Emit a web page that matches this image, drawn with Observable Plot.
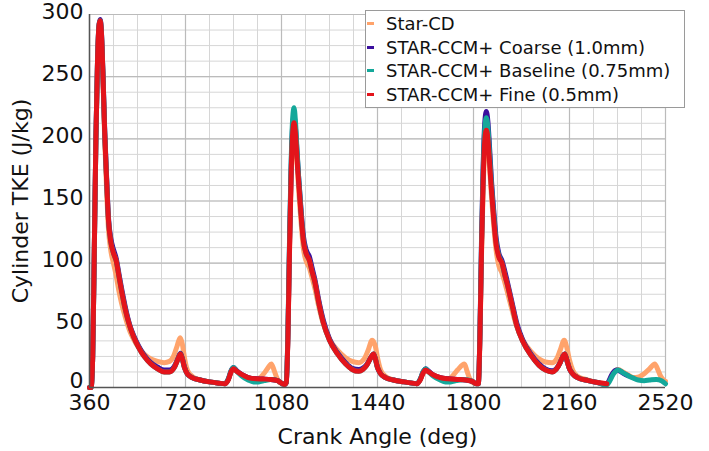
<!DOCTYPE html>
<html><head><meta charset="utf-8">
<script src="https://cdn.jsdelivr.net/npm/d3@7"></script>
<script src="https://cdn.jsdelivr.net/npm/@observablehq/plot@0.6"></script>
<style>
body{margin:0;background:#fff;}
#wrap{position:relative;width:709px;height:451px;font-family:"DejaVu Sans",sans-serif;}
#legend{position:absolute;left:365px;top:10px;width:320px;height:98px;border:1px solid #9a9a9a;background:#fff;box-sizing:border-box;font-size:18px;color:#111;}
.row{position:absolute;left:0;height:23px;display:flex;align-items:center;white-space:nowrap;}
.sw{width:7px;height:3px;margin-left:1px;margin-right:12px;}
</style></head>
<body><div id="wrap"><div id="legend"></div></div>
<script>
const seriesNames = ["Star-CD","STAR-CCM+ Coarse (1.0mm)","STAR-CCM+ Baseline (0.75mm)","STAR-CCM+ Fine (0.5mm)"];
const seriesColors = ["#ffa36b","#3b0f9e","#14a89a","#e3141b"];
const xTicks = [360,720,1080,1440,1800,2160,2520];
const yTicks = [0,50,100,150,200,250,300];
const xMinor = d3.range(360,2521,90);
const yMinor = d3.range(0,300.1,12.5);

const starCD = [[360,0],[366,0],[372,25],[378,110],[384,200],[390,262],[396,290],[400,293],[404,286],[410,252],[417,200],[424,160],[431,128],[440,110],[450,100],[460,90],[470,78],[480,68],[495,56],[510,46],[525,39],[545,32],[565,27],[590,23],[615,21],[640,20],[660,21],[675,25],[688,33],[700,40],[708,35],[716,24],[727,14],[745,9],[775,6],[810,4.5],[845,3.5],[868,3],[880,6],[892,13],[900,15],[912,13],[930,10.5],[955,8],[985,7],[1000,8],[1015,11.5],[1030,16],[1042,19],[1052,14],[1062,8],[1072,4],[1085,3],[1098,4],[1104,40],[1110,108],[1116,166],[1122,202],[1127,210],[1132,202],[1138,182],[1144,160],[1153,134],[1162,112],[1172,102],[1185,96],[1195,88],[1205,80],[1220,65],[1237,51],[1260,39],[1290,30],[1320,24],[1345,21],[1370,20],[1390,23],[1405,30],[1420,38],[1432,33],[1440,24],[1452,14],[1470,9],[1500,6],[1540,4.5],[1570,3.5],[1588,3],[1600,6],[1612,12],[1620,14],[1632,12.5],[1650,10],[1675,8],[1705,7],[1720,9],[1740,14],[1766,19],[1776,13],[1786,7],[1796,4],[1810,3],[1818,3],[1824,38],[1830,106],[1836,158],[1842,192],[1848,203],[1854,196],[1860,178],[1867,155],[1876,130],[1885,110],[1895,98],[1907,92],[1918,84],[1928,76],[1945,62],[1962,49],[1985,38],[2015,29],[2045,23],[2070,20.5],[2095,20],[2112,23],[2125,30],[2140,38],[2150,32],[2160,22],[2172,14],[2190,9],[2230,6],[2265,4],[2300,3],[2310,6],[2325,12],[2343,14.5],[2360,12.5],[2380,10],[2400,8],[2420,8.5],[2440,11],[2460,15],[2480,19],[2490,15],[2502,9],[2515,5.5],[2520,5]];

const coarse = [[360,0],[366,0],[372,25],[378,110],[384,200],[390,262],[396,292],[400,296],[404,289],[410,256],[417,207],[424,170],[431,137],[440,120],[450,111],[460,104],[470,92],[480,80],[495,64],[510,51],[525,42],[545,33],[565,26],[590,20],[615,16.5],[640,14],[660,14],[678,17],[692,23.5],[701,27.5],[708,23.5],[716,16.5],[727,11],[745,8],[775,6],[810,4.5],[845,3.5],[868,3],[880,6.5],[892,14],[900,16],[912,13.5],[930,10.5],[955,8],[985,7],[1010,6.8],[1040,6.5],[1065,5.5],[1080,3.5],[1092,2.5],[1098,4],[1104,42],[1110,114],[1116,175],[1122,211],[1127,218],[1132,210],[1138,190],[1144,170],[1153,144],[1162,122],[1172,111],[1185,105],[1195,96],[1205,87],[1220,70],[1237,54],[1260,39],[1290,28],[1320,20],[1345,15.5],[1370,14.5],[1385,15.5],[1400,18.5],[1415,24],[1425,27],[1432,23],[1440,16],[1452,11],[1470,8],[1500,6],[1540,4.5],[1570,3.5],[1588,3],[1600,6.5],[1612,13],[1620,15],[1632,13],[1650,10],[1675,8],[1705,7],[1740,6.5],[1770,6],[1795,5],[1810,3],[1818,3],[1824,42],[1830,118],[1836,176],[1842,212],[1848,222],[1854,214],[1860,194],[1867,168],[1876,142],[1885,120],[1895,108],[1907,102],[1918,93],[1928,84],[1945,68],[1962,52],[1985,38],[2015,27],[2045,19],[2070,15],[2095,13.5],[2110,15],[2125,20],[2135,25],[2142,27],[2150,22],[2160,15],[2172,11],[2190,8],[2230,5.5],[2265,4],[2295,2.5],[2305,4],[2318,10],[2335,14],[2350,13],[2365,11],[2380,9.5]];

const baseline = [[360,0],[366,0],[372,25],[378,110],[384,200],[390,262],[396,292],[400,295],[404,288],[410,255],[417,205],[424,168],[431,135],[440,117],[450,108],[460,102],[470,90],[480,78],[495,62],[510,50],[525,41],[545,32],[565,25],[590,19],[615,15],[640,12.5],[660,12.5],[678,16],[692,23],[701,27],[708,23],[716,16],[727,11],[745,8],[775,6],[810,4.5],[845,3.5],[868,3],[880,6.5],[892,14],[900,16],[912,13],[930,9.5],[955,6],[975,4.5],[995,4.5],[1015,5.5],[1040,6.5],[1065,5.5],[1080,3.5],[1092,2.5],[1098,4],[1104,44],[1110,118],[1116,180],[1122,217],[1127,225],[1132,215],[1138,192],[1144,170],[1153,142],[1162,119],[1172,108],[1185,102],[1195,93],[1205,85],[1220,68],[1237,52],[1260,38],[1290,27],[1320,19],[1345,14.5],[1370,13],[1385,14.5],[1400,18],[1415,24],[1425,27],[1432,23],[1440,16],[1452,11],[1470,8],[1500,6],[1540,4.5],[1570,3.5],[1588,3],[1600,6.5],[1612,13],[1620,15],[1632,12.5],[1650,9],[1675,6],[1695,4.5],[1715,4.5],[1735,5.5],[1760,6.2],[1780,6],[1795,5],[1810,3],[1818,3],[1824,41],[1830,114],[1836,172],[1842,207],[1848,217],[1854,209],[1860,189],[1867,164],[1876,138],[1885,117],[1895,106],[1907,100],[1918,90],[1928,82],[1945,66],[1962,50],[1985,37],[2015,26],[2045,18],[2070,14],[2095,12.5],[2110,14.5],[2125,20],[2135,25],[2142,27],[2150,22],[2160,15],[2172,11],[2190,8],[2230,5.5],[2265,4],[2298,2],[2310,5],[2325,11],[2343,14],[2360,12],[2380,9.5],[2400,7.5],[2418,6],[2440,5.5],[2460,6],[2485,6.5],[2505,5.5],[2520,3]];

const fine = [[360,0],[366,0],[372,25],[378,110],[384,200],[390,262],[396,292],[400,295],[404,288],[410,255],[417,205],[424,168],[431,135],[440,117],[450,108],[460,102],[470,90],[480,78],[495,62],[510,50],[525,41],[545,32],[565,25],[590,19],[615,15],[640,12.5],[660,12.5],[678,16],[692,23],[701,27],[708,23],[716,16],[727,11],[745,8],[775,6],[810,4.5],[845,3.5],[868,3],[880,6],[892,13],[900,15],[912,13],[930,10.5],[955,8],[985,7],[1010,6.8],[1040,6.5],[1065,5.5],[1080,3.5],[1092,2.5],[1098,4],[1104,40],[1110,110],[1116,170],[1122,205],[1127,213],[1132,205],[1138,185],[1144,166],[1153,140],[1162,118],[1172,108],[1185,102],[1195,93],[1205,85],[1220,68],[1237,52],[1260,38],[1290,27],[1320,19],[1345,14.5],[1370,13],[1385,14.5],[1400,18],[1415,24],[1425,27],[1432,23],[1440,16],[1452,11],[1470,8],[1500,6],[1540,4.5],[1570,3.5],[1588,3],[1600,6],[1612,12],[1620,14],[1632,12.5],[1650,10],[1675,8],[1705,7],[1740,6.5],[1770,6],[1795,5],[1810,3],[1818,3],[1824,40],[1830,110],[1836,165],[1842,198],[1848,207],[1854,200],[1860,182],[1867,160],[1876,135],[1885,115],[1895,105],[1907,100],[1918,90],[1928,82],[1945,66],[1962,50],[1985,37],[2015,26],[2045,18],[2070,14],[2095,12.5],[2110,14.5],[2125,20],[2135,25],[2142,27],[2150,22],[2160,15],[2172,11],[2190,8],[2230,5.5],[2265,4],[2300,3]];

const seriesData = [starCD, coarse, baseline, fine];
const tables = seriesData.map((d,i) => d.map(([a,v]) => ({angle:a, tke:v, series:seriesNames[i]})));

const plot = Plot.plot({
  width:709, height:451,
  marginLeft:89, marginRight:44, marginTop:14, marginBottom:64,
  style:{fontFamily:"'DejaVu Sans', sans-serif", fontSize:"22px", color:"#111", background:"#fff", overflow:"visible"},
  x:{domain:[360,2520]},
  y:{domain:[0,300]},
  color:{domain:seriesNames, range:seriesColors},
  marks:[
    Plot.ruleX(xMinor,{stroke:"#d6d6d6", strokeWidth:1}),
    Plot.ruleY(yMinor,{stroke:"#d6d6d6", strokeWidth:1}),
    Plot.ruleX(xTicks,{stroke:"#bbbbbb", strokeWidth:1.2}),
    Plot.ruleY(yTicks,{stroke:"#bbbbbb", strokeWidth:1.2}),
    Plot.axisX({ticks:xTicks, tickSize:0, tickPadding:7, fontSize:22, tickFormat:d=>String(d), label:"Crank Angle (deg)", labelAnchor:"center", labelArrow:"none", labelOffset:56}),
    Plot.axisY({ticks:yTicks.slice(1), tickSize:0, tickPadding:6, dy:-3, fontSize:22, label:"Cylinder TKE (J/kg)", labelAnchor:"center", labelArrow:"none", labelOffset:77}),
    Plot.axisY({ticks:yTicks.slice(0,1), tickSize:0, tickPadding:6, dy:-7, fontSize:22, label:null}),
    ...tables.map(t => Plot.line(t,{x:"angle", y:"tke", stroke:"series", strokeWidth:5, curve:"monotone-x", strokeLinejoin:"round", strokeLinecap:"round"})),
    Plot.ruleX([360],{stroke:"#555", strokeWidth:1.5}),
    Plot.ruleY([0],{stroke:"#555", strokeWidth:1.5})
  ]
});
const wrap = document.getElementById("wrap");
wrap.insertBefore(plot, wrap.firstChild);
plot.style.position="absolute"; plot.style.left="0"; plot.style.top="0";

const legend = document.getElementById("legend");
seriesNames.forEach((n,i) => {
  const r = document.createElement("div");
  r.className="row"; r.style.top = (1 + i*23.5) + "px";
  r.innerHTML = `<span class="sw" style="background:${seriesColors[i]}"></span><span>${n}</span>`;
  legend.appendChild(r);
});
</script></body></html>
